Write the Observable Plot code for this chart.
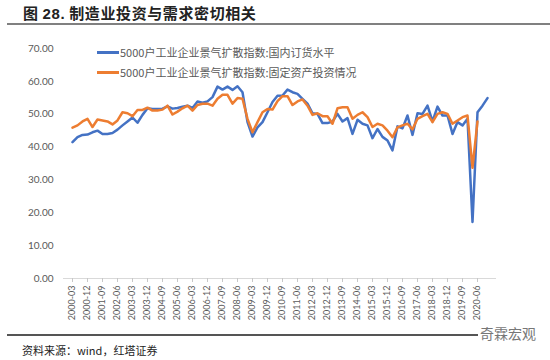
<!DOCTYPE html>
<html>
<head>
<meta charset="utf-8">
<script src="https://cdn.jsdelivr.net/npm/d3@7"></script>
<script src="https://cdn.jsdelivr.net/npm/@observablehq/plot@0.6"></script>
<style>
  html, body { margin: 0; padding: 0; background: #fff; }
  #wrap { position: relative; width: 550px; height: 360px; overflow: hidden; font-family: "Noto Sans CJK SC", sans-serif; }
  #chart { position: absolute; left: 0; top: 0; }
  .abs { position: absolute; white-space: nowrap; }
</style>
</head>
<body>
<div id="wrap">
  <div id="chart"></div>
  <div class="abs" style="left:23px; top:3px; font-size:15px; font-weight:bold; letter-spacing:0.6px; color:#222; line-height:20px;">图 <span style="font-family:'Liberation Sans',Arial,sans-serif;">28.</span> 制造业投资与需求密切相关</div>
  <div class="abs" style="left:7px; top:23px; width:543px; height:2px; background:#808080;"></div>
  <div id="legend"></div>
  <div class="abs" style="left:7px; top:334px; width:523px; height:2px; background:#555;"></div>
  <div class="abs" style="left:22px; top:342px; font-size:11px; color:#222; line-height:16px;">资料来源：wind，红塔证券</div>
  <div class="abs" style="left:478px; top:324px; font-size:14px; color:#777; background:#fff; padding:0 2px; line-height:18px;">奇霖宏观</div>
</div>
<script>
const quarters = [
  "2000-03","2000-06","2000-09","2000-12","2001-03","2001-06","2001-09","2001-12",
  "2002-03","2002-06","2002-09","2002-12","2003-03","2003-06","2003-09","2003-12",
  "2004-03","2004-06","2004-09","2004-12","2005-03","2005-06","2005-09","2005-12",
  "2006-03","2006-06","2006-09","2006-12","2007-03","2007-06","2007-09","2007-12",
  "2008-03","2008-06","2008-09","2008-12","2009-03","2009-06","2009-09","2009-12",
  "2010-03","2010-06","2010-09","2010-12","2011-03","2011-06","2011-09","2011-12",
  "2012-03","2012-06","2012-09","2012-12","2013-03","2013-06","2013-09","2013-12",
  "2014-03","2014-06","2014-09","2014-12","2015-03","2015-06","2015-09","2015-12",
  "2016-03","2016-06","2016-09","2016-12","2017-03","2017-06","2017-09","2017-12",
  "2018-03","2018-06","2018-09","2018-12","2019-03","2019-06","2019-09","2019-12",
  "2020-03","2020-06","2020-09","2020-12"
];
const tickLabels = [
  "2000-03","2000-12","2001-09","2002-06","2003-03","2003-12","2004-09","2005-06",
  "2006-03","2006-12","2007-09","2008-06","2009-03","2009-12","2010-09","2011-06",
  "2012-03","2012-12","2013-09","2014-06","2015-03","2015-12","2016-09","2017-06",
  "2018-03","2018-12","2019-09","2020-06"
];
const orderName = "5000户工业企业景气扩散指数:国内订货水平";
const investName = "5000户工业企业景气扩散指数:固定资产投资情况";
const orderValues = [
  41.5,43.0,43.7,43.8,44.5,45.0,44.0,44.0,44.3,45.3,46.6,47.8,49.0,47.4,49.8,51.8,
  51.6,51.6,51.7,52.4,51.7,51.9,52.3,52.6,51.9,53.9,53.5,53.9,55.2,58.4,57.5,58.4,
  57.4,58.5,56.7,47.6,43.2,46.0,47.6,50.6,53.7,55.6,55.7,57.5,56.7,56.2,54.7,53.2,
  50.3,50.1,47.3,47.3,47.8,50.1,47.8,48.8,44.0,48.3,47.1,46.6,42.7,45.5,43.1,42.0,
  39.0,46.3,45.7,49.6,43.7,50.3,50.1,52.6,47.8,52.3,49.6,49.6,44.0,47.6,46.6,48.6,
  17.2,50.6,52.6,54.9
];
const investValues = [
  45.9,46.6,47.8,48.6,46.1,48.4,48.1,47.8,46.9,48.1,50.6,50.3,49.4,51.3,51.3,52.0,
  51.1,51.1,51.4,52.6,49.9,50.8,51.8,52.6,51.1,52.8,53.2,53.2,52.6,54.7,55.9,55.9,
  53.2,54.9,54.7,48.6,44.5,47.6,50.6,51.6,51.4,54.0,55.5,55.5,52.8,53.9,54.5,52.6,
  49.8,50.3,49.4,49.4,47.1,51.8,52.1,52.1,48.6,49.8,50.6,49.1,46.1,47.1,46.6,45.0,
  43.0,46.0,46.6,47.1,45.4,48.6,49.4,50.1,47.6,50.1,50.6,50.1,47.1,48.1,49.1,49.6,
  33.7,47.8
];
const yTicks = [0,10,20,30,40,50,60,70];
const colors = ["#4472C4", "#ED7D31"];

const orderData = orderValues.map((v, i) => ({q: quarters[i], v}));
const investData = investValues.map((v, i) => ({q: quarters[i], v}));

const chart = Plot.plot({
  width: 550,
  height: 360,
  marginTop: 48,
  marginBottom: 82,
  marginLeft: 63,
  marginRight: 54,
  style: {fontFamily: "Lato, 'Noto Sans CJK SC', sans-serif", color: "#595959", background: "transparent"},
  x: {type: "point", domain: quarters, padding: 0, label: null},
  y: {domain: [0, 70], label: null},
  marks: [
    Plot.axisY({ticks: yTicks, tickSize: 0, tickPadding: 10, tickFormat: d => d.toFixed(2), fontSize: 10, label: null}),
    Plot.ruleY([0], {stroke: "#d9d9d9", strokeWidth: 1}),
    Plot.axisX({ticks: tickLabels, tickSize: 4, tickPadding: 3, tickRotate: -90, fontSize: 9, stroke: "#c8c8c8", label: null}),
    Plot.lineY(orderData, {x: "q", y: "v", stroke: colors[0], strokeWidth: 2.5, strokeLinejoin: "round"}),
    Plot.lineY(investData, {x: "q", y: "v", stroke: colors[1], strokeWidth: 2.5, strokeLinejoin: "round"})
  ]
});
document.getElementById("chart").appendChild(chart);

const legend = document.getElementById("legend");
[[orderName, colors[0], 44], [investName, colors[1], 64]].forEach(([name, c, top]) => {
  const line = document.createElement("div");
  line.className = "abs";
  line.style.cssText = `left:97px; top:${top + 7}px; width:22px; height:3px; background:${c};`;
  legend.appendChild(line);
  const t = document.createElement("div");
  t.className = "abs";
  t.style.cssText = `left:120px; top:${top}px; font-size:11px; line-height:16px; color:#595959;`;
  t.textContent = name;
  legend.appendChild(t);
});
</script>
</body>
</html>
